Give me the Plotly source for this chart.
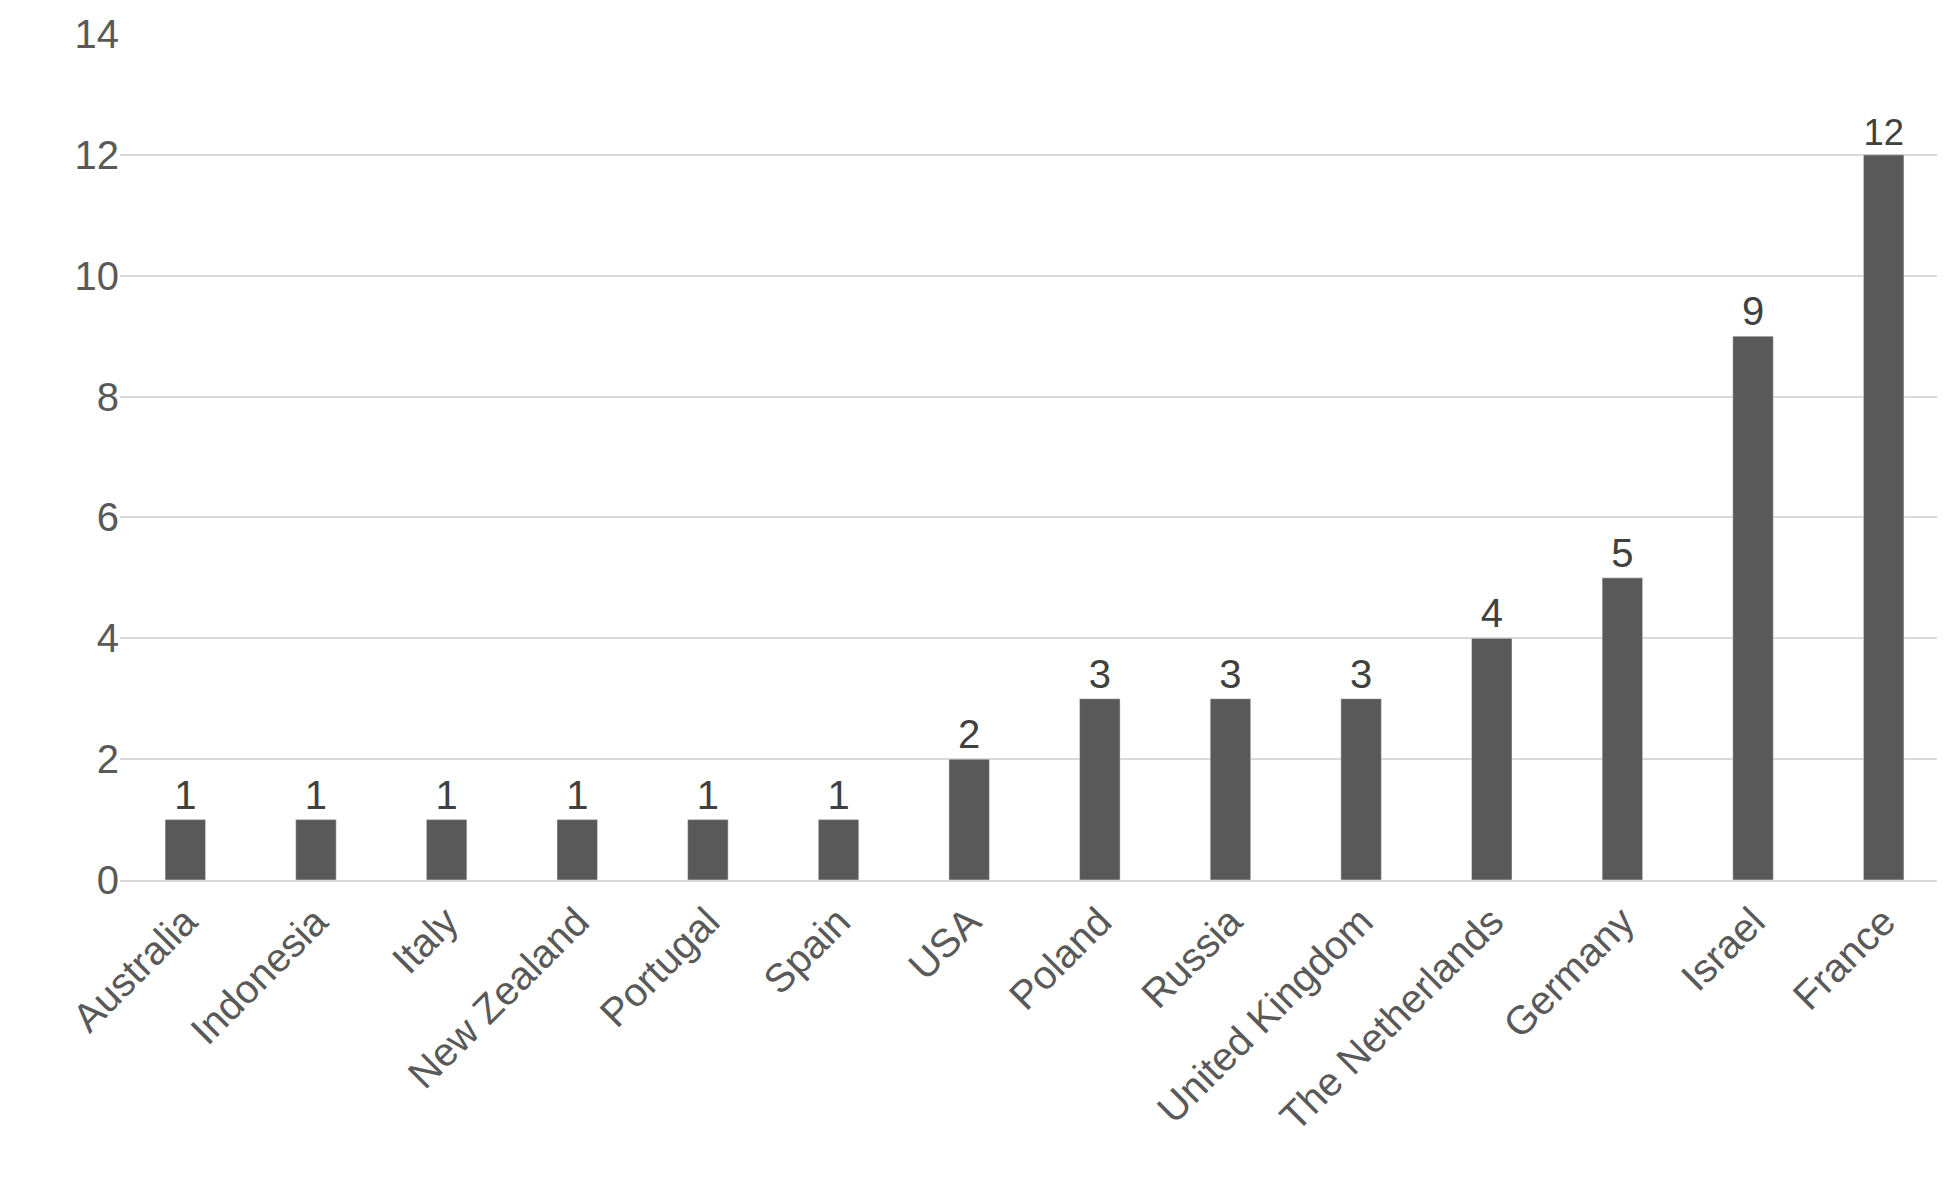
import plotly.graph_objects as go

countries = ["Australia", "Indonesia", "Italy", "New Zealand", "Portugal", "Spain", "USA",
             "Poland", "Russia", "United Kingdom", "The Netherlands", "Germany", "Israel", "France"]
counts = [1, 1, 1, 1, 1, 1, 2, 3, 3, 3, 4, 5, 9, 12]
yticks = [0, 2, 4, 6, 8, 10, 12, 14]

font = "Liberation Sans"
fig = go.Figure(go.Bar(
    x=countries, y=counts, marker_color="#595959", width=0.31,
    text=[str(v) for v in counts], textposition="outside",
    textfont=dict(size=40, color="#404040", family=font), cliponaxis=False))
fig.update_layout(
    width=1945, height=1204, plot_bgcolor="white", paper_bgcolor="white",
    margin=dict(l=112, r=4, t=26, b=332), showlegend=False,
    xaxis=dict(tickangle=-45, tickfont=dict(size=40, color="#595959", family=font),
               showline=True, linecolor="#d9d9d9", linewidth=2),
    yaxis=dict(range=[0, 14], tickvals=yticks, gridcolor="#d9d9d9", gridwidth=2,
               tickfont=dict(size=40, color="#595959", family=font), zeroline=False,
               ticklen=0, ticks=""),
)
fig.write_html("out.html")
